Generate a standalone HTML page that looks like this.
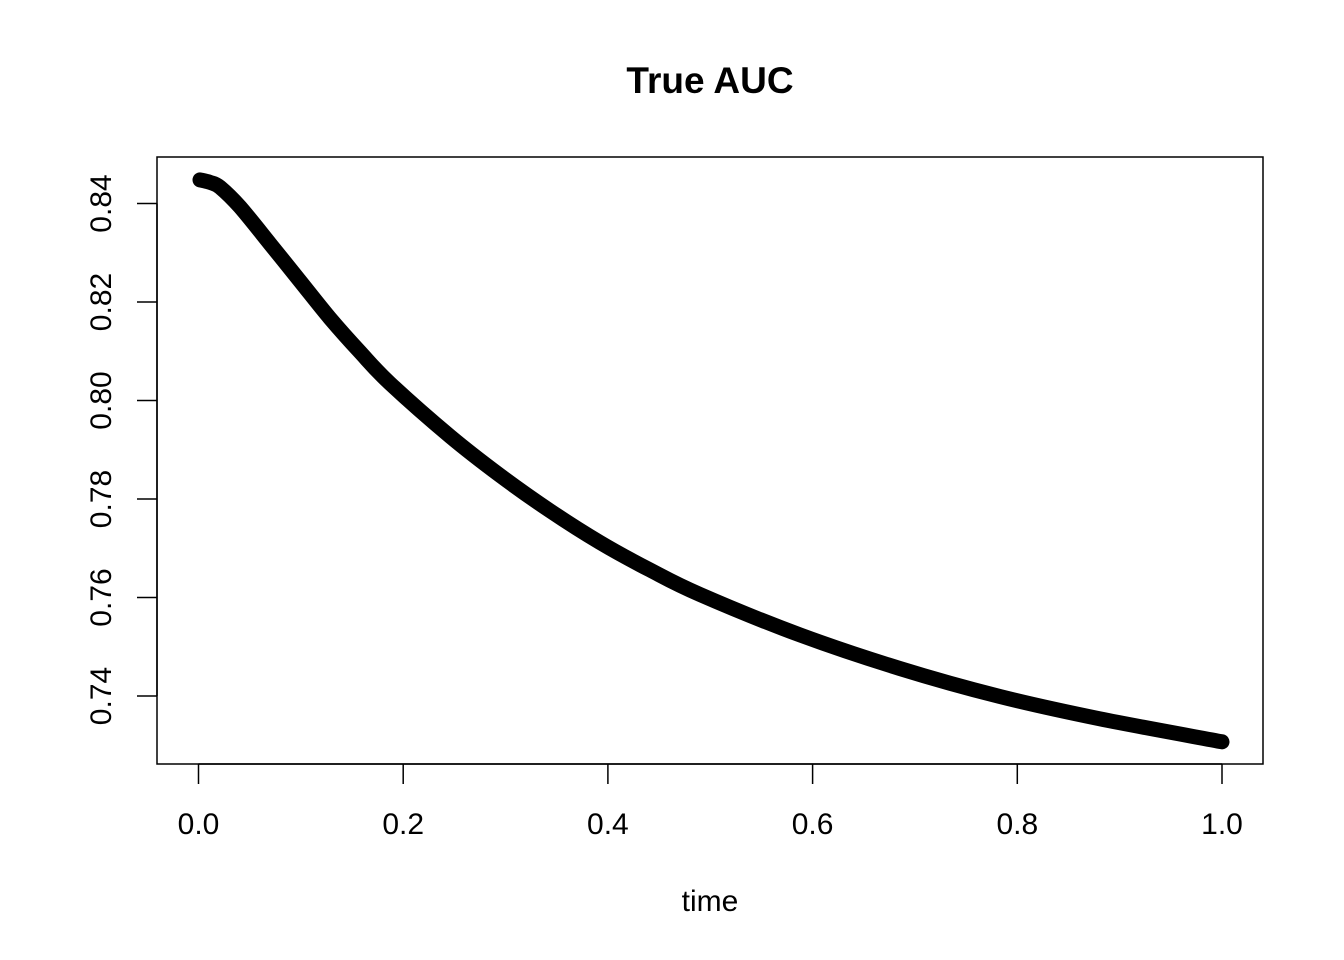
<!DOCTYPE html>
<html><head><meta charset="utf-8"><style>
html,body{margin:0;padding:0;background:#fff;}
svg{display:block;}
text{font-family:"Liberation Sans",Arial,sans-serif;fill:#000;}
</style></head><body>
<svg id="chart" width="1344" height="960" viewBox="0 0 1344 960">
<text x="710" y="93" font-size="37" font-weight="bold" text-anchor="middle">True AUC</text>
<rect x="157" y="157" width="1106" height="607" fill="none" stroke="#000" stroke-width="1.5"/>
<g id="xaxis"></g>
<g id="yaxis"></g>
<text x="710" y="911" font-size="30" text-anchor="middle">time</text>
<g id="series"></g>
</svg>
<script>
const times = [0.0015, 0.011, 0.021, 0.0405, 0.070, 0.099, 0.1285, 0.158, 0.187, 0.246, 0.2946, 0.3435, 0.392, 0.441, 0.49, 0.5876, 0.685, 0.783, 0.880, 1.0];
const aucValues = [0.8448, 0.8443, 0.8433, 0.8393, 0.8318, 0.8243, 0.8167, 0.8098, 0.8035, 0.7927, 0.7848, 0.7776, 0.7712, 0.7656, 0.7606, 0.7524, 0.7456, 0.7399, 0.7354, 0.7307];
const xTicks = [0, 0.2, 0.4, 0.6, 0.8, 1.0];
const xTickLabels = ["0.0", "0.2", "0.4", "0.6", "0.8", "1.0"];
const yTicks = [0.74, 0.76, 0.78, 0.80, 0.82, 0.84];
const yTickLabels = ["0.74", "0.76", "0.78", "0.80", "0.82", "0.84"];

const NS = "http://www.w3.org/2000/svg";
function xScale(t){ return 198.5 + t * 1023.5; }
function yScale(v){ return 203.5 + (0.84 - v) * 4925; }
function mk(tag, attrs, parent){
  const e = document.createElementNS(NS, tag);
  for (const k in attrs) e.setAttribute(k, attrs[k]);
  parent.appendChild(e);
  return e;
}
const xa = document.getElementById('xaxis');
const ya = document.getElementById('yaxis');
mk('line', {x1: xScale(xTicks[0]), x2: xScale(xTicks[xTicks.length-1]), y1: 764, y2: 764, stroke: '#000', 'stroke-width': 1.5}, xa);
xTicks.forEach((t, i) => {
  const l = mk('line', {x1: xScale(t), x2: xScale(t), y1: 764, y2: 784, stroke: '#000', 'stroke-width': 1.5}, xa);
  
  
  const tx = mk('text', {x: xScale(t), y: 834, 'font-size': 30, 'text-anchor': 'middle'}, xa);
  tx.textContent = xTickLabels[i];
  
  
});
mk('line', {x1: 157, x2: 157, y1: yScale(yTicks[0]), y2: yScale(yTicks[yTicks.length-1]), stroke: '#000', 'stroke-width': 1.5}, ya);
yTicks.forEach((v, i) => {
  const y = yScale(v);
  const l = mk('line', {x1: 137, x2: 157, y1: y, y2: y, stroke: '#000', 'stroke-width': 1.5}, ya);
  
  
  const tx = mk('text', {x: 0, y: 0, 'font-size': 30, 'text-anchor': 'middle', transform: 'translate(111,' + y + ') rotate(-90)'}, ya);
  tx.textContent = yTickLabels[i];
  
  
});
const P = times.map((t, i) => [xScale(t), yScale(aucValues[i])]);
let d = 'M' + P[0][0].toFixed(1) + ',' + P[0][1].toFixed(1);
for (let i = 0; i < P.length - 1; i++) {
  const p0 = P[Math.max(0, i-1)], p1 = P[i], p2 = P[i+1], p3 = P[Math.min(P.length-1, i+2)];
  const c1 = [p1[0] + (p2[0]-p0[0])/6, p1[1] + (p2[1]-p0[1])/6];
  const c2 = [p2[0] - (p3[0]-p1[0])/6, p2[1] - (p3[1]-p1[1])/6];
  d += ' C' + c1[0].toFixed(1) + ',' + c1[1].toFixed(1) + ' ' + c2[0].toFixed(1) + ',' + c2[1].toFixed(1) + ' ' + p2[0].toFixed(1) + ',' + p2[1].toFixed(1);
}
const pl = mk('path', {d: d, fill: 'none', stroke: '#000', 'stroke-width': 15, 'stroke-linecap': 'round', 'stroke-linejoin': 'round'}, document.getElementById('series'));


</script>
</body></html>
